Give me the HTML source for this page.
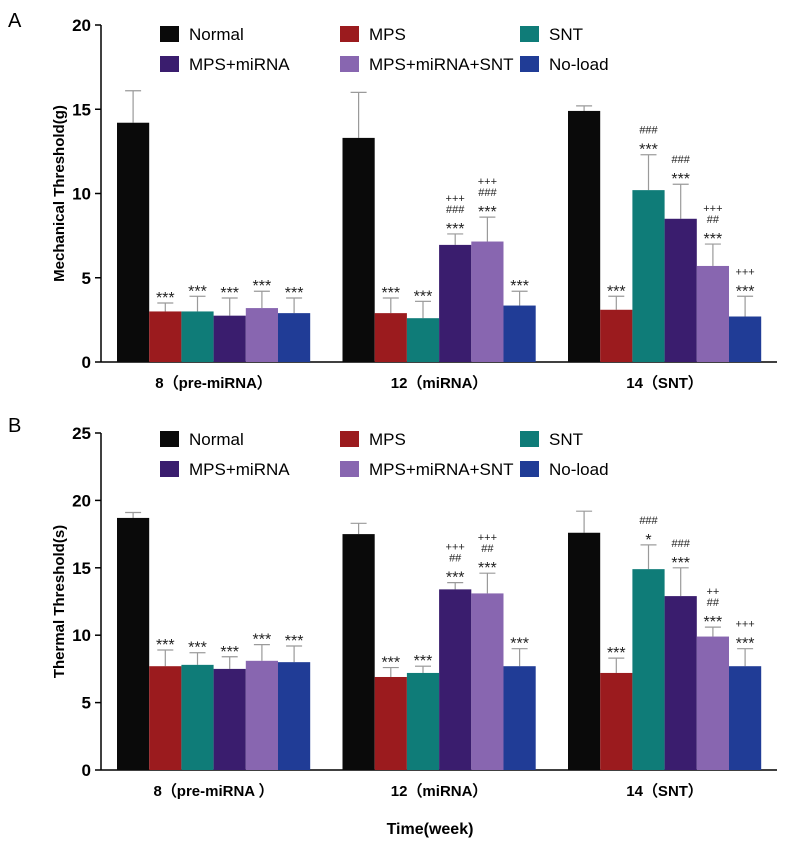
<!DOCTYPE html>
<html><head><meta charset="utf-8"><style>
body{margin:0;background:#fff;}
svg text{font-family:"Liberation Sans",sans-serif;}
</style></head><body>
<svg id="s" width="788" height="855" xmlns="http://www.w3.org/2000/svg">
<text x="8" y="27" font-size="20">A</text>
<text x="8" y="432" font-size="20">B</text>
<text x="430" y="834" font-size="16" font-weight="bold" text-anchor="middle">Time(week)</text>
</svg>
<script>
const groups=["8（pre-miRNA）","12（miRNA）","14（SNT）"];
const groupsB=["8（pre-miRNA ）","12（miRNA）","14（SNT）"];
const series=["Normal","MPS","SNT","MPS+miRNA","MPS+miRNA+SNT","No-load"];
const colors=["#0a0a0a","#9b1b1e","#0f7c78","#3a1d6e","#8866b0","#203c96"];
const mechVals=[[14.2,3.0,3.0,2.75,3.2,2.9],[13.3,2.9,2.6,6.95,7.15,3.35],[14.9,3.1,10.2,8.5,5.7,2.7]];
const mechErr=[[16.1,3.5,3.9,3.8,4.2,3.8],[16.0,3.8,3.6,7.6,8.6,4.2],[15.2,3.9,12.3,10.55,7.0,3.9]];
const mechAnn=[[[],["***"],["***"],["***"],["***"],["***"]],[[],["***"],["***"],["+++","###","***"],["+++","###","***"],["***"]],[[],["***"],["###","***"],["###","***"],["+++","##","***"],["+++","***"]]];
const thermVals=[[18.7,7.7,7.8,7.5,8.1,8.0],[17.5,6.9,7.2,13.4,13.1,7.7],[17.6,7.2,14.9,12.9,9.9,7.7]];
const thermErr=[[19.1,8.9,8.7,8.4,9.3,9.2],[18.3,7.6,7.7,13.9,14.6,9.0],[19.2,8.3,16.7,15.0,10.6,9.0]];
const thermAnn=[[[],["***"],["***"],["***"],["***"],["***"]],[[],["***"],["***"],["+++","##","***"],["+++","##","***"],["***"]],[[],["***"],["###","*"],["###","***"],["++","##","***"],["+++","***"]]];
const mechTicks=[0,5,10,15,20];
const thermTicks=[0,5,10,15,20,25];
const NS="http://www.w3.org/2000/svg",svg=document.getElementById('s');
function el(t,a,txt){const e=document.createElementNS(NS,t);for(const k in a)e.setAttribute(k,a[k]);if(txt!==undefined)e.textContent=txt;svg.appendChild(e);return e;}
function panel(p,vals,errs,anns,ticks,max,y0,yTop,title,glabels,legY){
  const y=v=>y0-(v/max)*(y0-yTop);
  const gx=g=>117+g*225.5, bw=32.2;
  const ax=el('line',{x1:101,y1:y0,x2:777,y2:y0,stroke:'#000','stroke-width':1.5});
  
  const ay=el('line',{x1:101,y1:y0,x2:101,y2:yTop,stroke:'#000','stroke-width':1.5});
  
  ticks.forEach(t=>{
    const tk=el('line',{x1:95,y1:y(t),x2:101,y2:y(t),stroke:'#000','stroke-width':1.5});
    
    const tl=el('text',{x:91,y:y(t)+6,'font-size':17,'font-weight':'bold','text-anchor':'end'},t);
    
  });
  const yt=el('text',{x:0,y:0,'font-size':15,'font-weight':'bold','text-anchor':'middle',transform:`translate(64,${(y0+yTop)/2}) rotate(-90)`},title);
  
  vals.forEach((gv,g)=>{
    const gl=el('text',{x:gx(g)+3*bw,y:y0+26,'font-size':15,'font-weight':'bold','text-anchor':'middle'},glabels[g]);
    
    gv.forEach((v,i)=>{
      const x=gx(g)+i*bw, cx=x+bw/2, ey=y(errs[g][i]);
      const e=el('line',{x1:cx,y1:y(v),x2:cx,y2:ey,stroke:'#9a9a9a','stroke-width':1.2});
      
      const c=el('line',{x1:cx-8,y1:ey,x2:cx+8,y2:ey,stroke:'#9a9a9a','stroke-width':1.2});
      
      const r=el('rect',{x:x,y:y(v),width:bw,height:y0-y(v),fill:colors[i]});
      
      const a=anns[g][i];
      let base=ey;
      for(let k=a.length-1;k>=0;k--){
        const s=a[k], isStar=s.indexOf('*')>=0;
        const t=el('text',{x:cx,y:isStar?base:base-9,'font-size':isStar?16:11,'text-anchor':'middle',fill:'#222'},s);
        
        base-= isStar?12:11;
      }
    });
  });
  const lx=[160,340,520];
  series.forEach((s,i)=>{
    const col=i%3,row=Math.floor(i/3),ly=legY+row*30;
    const sw=el('rect',{x:lx[col],y:ly-8,width:19,height:16,fill:colors[i]});
    
    const lt=el('text',{x:lx[col]+29,y:ly+6,'font-size':17},s);
    
  });
}
panel('mech',mechVals,mechErr,mechAnn,mechTicks,20,362,25,'Mechanical Threshold(g)',groups,34);
panel('therm',thermVals,thermErr,thermAnn,thermTicks,25,770,433,'Thermal Threshold(s)',groupsB,439);
</script>
</body></html>
